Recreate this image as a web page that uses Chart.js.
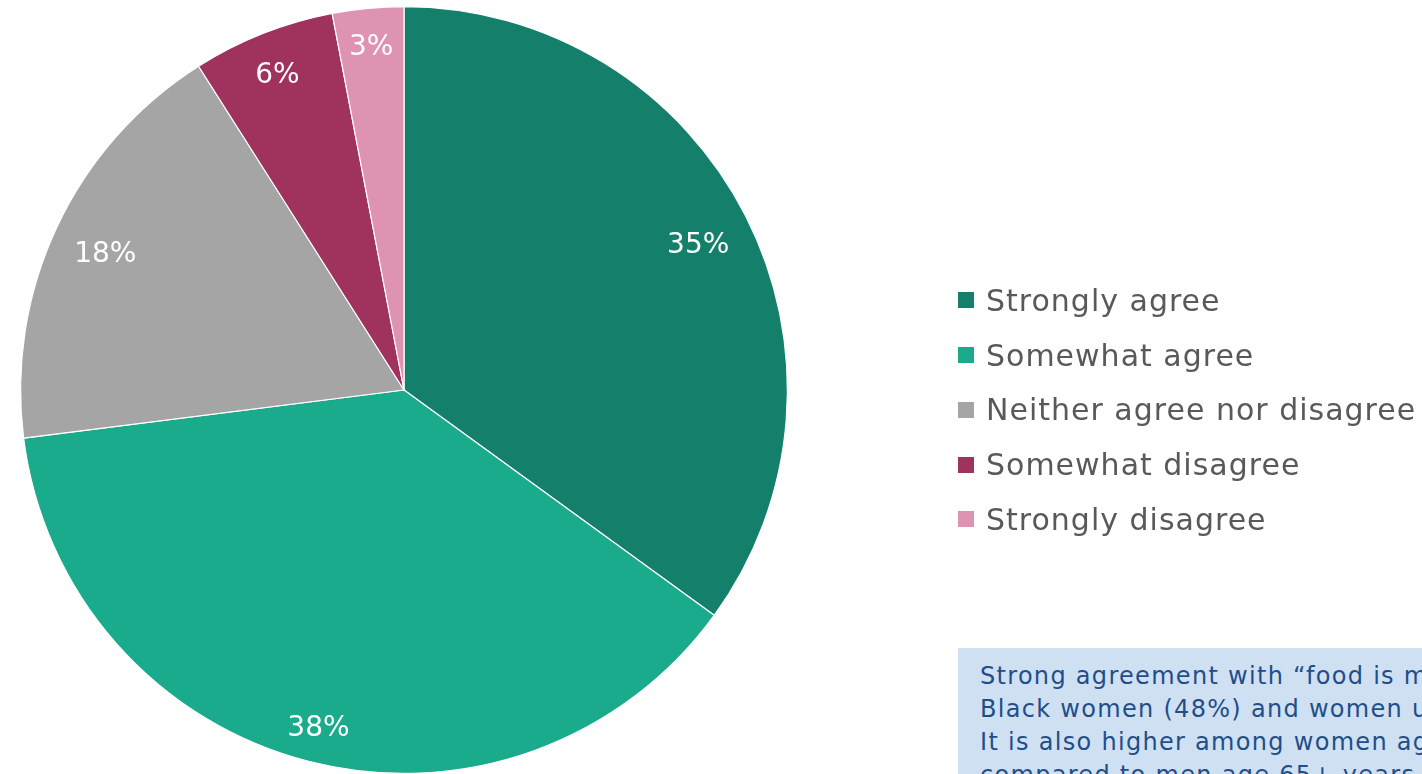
<!DOCTYPE html>
<html>
<head>
<meta charset="utf-8">
<title>Food is medicine</title>
<script src="https://cdn.jsdelivr.net/npm/chart.js@4.4.1/dist/chart.umd.min.js"></script>
<style>
  html, body {
    margin: 0;
    padding: 0;
    width: 1422px;
    height: 774px;
    overflow: hidden;
    background: #ffffff;
    font-family: "DejaVu Sans", sans-serif;
  }
  #wrap {
    position: relative;
    width: 1422px;
    height: 774px;
  }
  #pie-chart {
    position: absolute;
    left: 0;
    top: 0;
  }
  #legend {
    position: absolute;
    left: 958px;
    top: 273px;
    margin: 0;
    padding: 0;
    list-style: none;
  }
  #legend li {
    height: 54.75px;
    display: flex;
    align-items: center;
    color: #595959;
    font-size: 30px;
    letter-spacing: 1px;
    white-space: nowrap;
  }
  #legend .swatch {
    width: 16px;
    height: 16px;
    margin-right: 12px;
    flex: none;
  }
  #note {
    position: absolute;
    left: 958px;
    top: 648px;
    width: 700px;
    height: 200px;
    background: #d0e0f3;
    color: #1f4e89;
    font-size: 24px;
    letter-spacing: 1.3px;
    line-height: 33px;
    padding: 12px 0 0 22px;
    box-sizing: border-box;
    white-space: nowrap;
  }
</style>
</head>
<body>
<div id="wrap">
  <canvas id="pie-chart" width="1422" height="774"></canvas>
  <ul id="legend"></ul>
  <div id="note"></div>
</div>
<script>
// Survey answers

const answers = [
  "Strongly agree",
  "Somewhat agree",
  "Neither agree nor disagree",
  "Somewhat disagree",
  "Strongly disagree",
];
const shares = [35, 38, 18, 6, 3];
const sliceColors = ["#14806b", "#19ab8c", "#a5a5a5", "#a0325e", "#df93b3"];

const noteLines = [
  "Strong agreement with \u201cfood is medicine\u201d is highest among",
  "Black women (48%) and women under age 35 (41%).",
  "It is also higher among women age 65+ years (36%)",
  "compared to men age 65+ years (27%).",
];

// Percent labels drawn inside each slice, pushed out until the
// text box sits just inside the rim

const sliceLabels = {
  id: "sliceLabels",
  afterDatasetsDraw(chart) {
    let ctx = chart.ctx;
    let meta = chart.getDatasetMeta(0);
    let gap = 20;
    let halfHeight = 12;
    let capHalf = 13; // drop from the label centre down to the baseline
    ctx.save();
    ctx.fillStyle = "#ffffff";
    ctx.font = "28px 'DejaVu Sans', sans-serif";
    ctx.textAlign = "center";
    ctx.textBaseline = "alphabetic";
    meta.data.forEach((arc, i) => {
      let text = shares[i] + "%";
      let halfWidth = ctx.measureText(text).width / 2;
      let mid = (arc.startAngle + arc.endAngle) / 2;
      let cx = Math.cos(mid);
      let cy = Math.sin(mid);
      let reach = Math.abs(cx) * halfWidth + Math.abs(cy) * halfHeight;
      let r = arc.outerRadius - gap - reach;
      ctx.fillText(text, arc.x + cx * r, arc.y + cy * r + capHalf);
    });
    ctx.restore();
  },
};

let pieCtx = document.getElementById("pie-chart").getContext("2d");
let pieChart = new Chart(pieCtx, {
  type: "pie",
  data: {
    labels: answers,
    datasets: [
      {
        data: shares,
        backgroundColor: sliceColors,
        borderColor: "#ffffff",
        borderWidth: 1.2,
      },
    ],
  },
  options: {
    responsive: false,
    animation: false,
    layout: {
      padding: { left: 20, right: 634, top: 6, bottom: 0 },
    },
    plugins: {
      legend: { display: false },
      tooltip: { enabled: false },
    },
  },
  plugins: [sliceLabels],
});

// Legend built from the chart's own labels and colours

let legendList = document.getElementById("legend");
answers.forEach((name, i) => {
  let item = document.createElement("li");
  let swatch = document.createElement("span");
  swatch.className = "swatch";
  swatch.style.background = sliceColors[i];
  item.appendChild(swatch);
  item.appendChild(document.createTextNode(name));
  legendList.appendChild(item);
});

let note = document.getElementById("note");
note.innerHTML = noteLines.join("<br>");
</script>
</body>
</html>
